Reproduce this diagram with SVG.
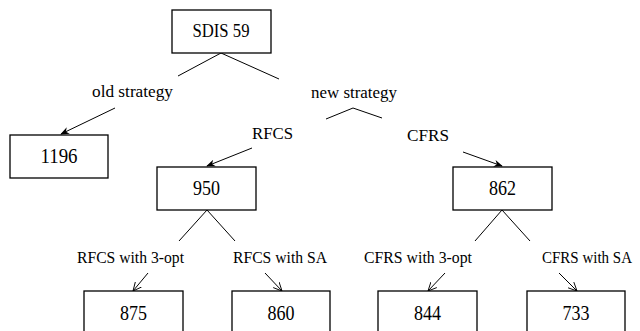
<svg xmlns="http://www.w3.org/2000/svg" width="640" height="331" viewBox="0 0 640 331">
<defs>
<style>
.box{fill:#fff;stroke:#000;stroke-width:1.3}
.ln{fill:none;stroke:#000;stroke-width:1}
text{font-family:'Liberation Serif','Times New Roman',serif;fill:#000}
.lab{font-size:17.5px}
.num{font-size:21px;text-anchor:middle}
</style>
<marker id="fa" viewBox="0 0 10 10" refX="9" refY="5" markerWidth="9" markerHeight="9" markerUnits="userSpaceOnUse" orient="auto">
<path d="M0,1 L10,5 L0,9 L3,5 Z" fill="#000"/>
</marker>
<marker id="oa" viewBox="0 0 10 10" refX="9.5" refY="5" markerWidth="9" markerHeight="9" markerUnits="userSpaceOnUse" orient="auto">
<path d="M0,0.5 L9.5,5 L0,9.5" fill="none" stroke="#000" stroke-width="1"/>
</marker>
</defs>
<rect width="640" height="331" fill="#fff"/>
<g id="connectors">
<polyline class="ln" points="178,76 221,53 279,79"/>
<line class="ln" x1="115" y1="108" x2="61" y2="134" marker-end="url(#fa)"/>
<polyline class="ln" points="326,119 353,108 382,118"/>
<line class="ln" x1="252" y1="148" x2="207" y2="166" marker-end="url(#fa)"/>
<line class="ln" x1="463" y1="152" x2="502" y2="166" marker-end="url(#fa)"/>
<polyline class="ln" points="179,241 207,210 235,241"/>
<polyline class="ln" points="475,241 502,210 530,241"/>
<line class="ln" x1="148" y1="273" x2="133" y2="291" marker-end="url(#oa)"/>
<line class="ln" x1="265" y1="273" x2="282" y2="291" marker-end="url(#oa)"/>
<line class="ln" x1="445" y1="273" x2="428" y2="291" marker-end="url(#oa)"/>
<line class="ln" x1="559" y1="273" x2="577" y2="291" marker-end="url(#oa)"/>
</g>
<g id="labels">
<text class="lab" x="92" y="97" textLength="81" lengthAdjust="spacingAndGlyphs">old strategy</text>
<text class="lab" x="311" y="98" textLength="86" lengthAdjust="spacingAndGlyphs">new strategy</text>
<text class="lab" x="252" y="139" textLength="41" lengthAdjust="spacingAndGlyphs">RFCS</text>
<text class="lab" x="407" y="141" textLength="42" lengthAdjust="spacingAndGlyphs">CFRS</text>
<text class="lab" x="77" y="263" textLength="107" lengthAdjust="spacingAndGlyphs">RFCS with 3-opt</text>
<text class="lab" x="233" y="263" textLength="94" lengthAdjust="spacingAndGlyphs">RFCS with SA</text>
<text class="lab" x="364" y="263" textLength="108" lengthAdjust="spacingAndGlyphs">CFRS with 3-opt</text>
<text class="lab" x="632" y="263" text-anchor="end" font-size="16.5" textLength="90" lengthAdjust="spacingAndGlyphs">CFRS with SA</text>
</g>
<g id="n-sdis">
<rect class="box" x="172" y="10" width="99" height="43"/>
<text x="221" y="37" font-size="19.5" text-anchor="middle" textLength="57" lengthAdjust="spacingAndGlyphs">SDIS 59</text>
</g>
<g id="n-1196">
<rect class="box" x="10" y="135" width="98" height="43"/>
<text class="num" x="59" y="163" textLength="37" lengthAdjust="spacingAndGlyphs">1196</text>
</g>
<g id="n-950">
<rect class="box" x="157" y="167" width="99" height="43"/>
<text class="num" x="206.5" y="195" textLength="27" lengthAdjust="spacingAndGlyphs">950</text>
</g>
<g id="n-862">
<rect class="box" x="453" y="167" width="99" height="43"/>
<text class="num" x="502.5" y="195" textLength="27" lengthAdjust="spacingAndGlyphs">862</text>
</g>
<g id="n-875">
<rect class="box" x="84" y="291" width="99" height="45"/>
<text class="num" x="133.5" y="320" textLength="27" lengthAdjust="spacingAndGlyphs">875</text>
</g>
<g id="n-860">
<rect class="box" x="232" y="291" width="98" height="45"/>
<text class="num" x="281" y="320" textLength="27" lengthAdjust="spacingAndGlyphs">860</text>
</g>
<g id="n-844">
<rect class="box" x="378" y="291" width="99" height="45"/>
<text class="num" x="427.5" y="320" textLength="27" lengthAdjust="spacingAndGlyphs">844</text>
</g>
<g id="n-733">
<rect class="box" x="527" y="291" width="98" height="45"/>
<text class="num" x="576" y="320" textLength="27" lengthAdjust="spacingAndGlyphs">733</text>
</g>
</svg>
